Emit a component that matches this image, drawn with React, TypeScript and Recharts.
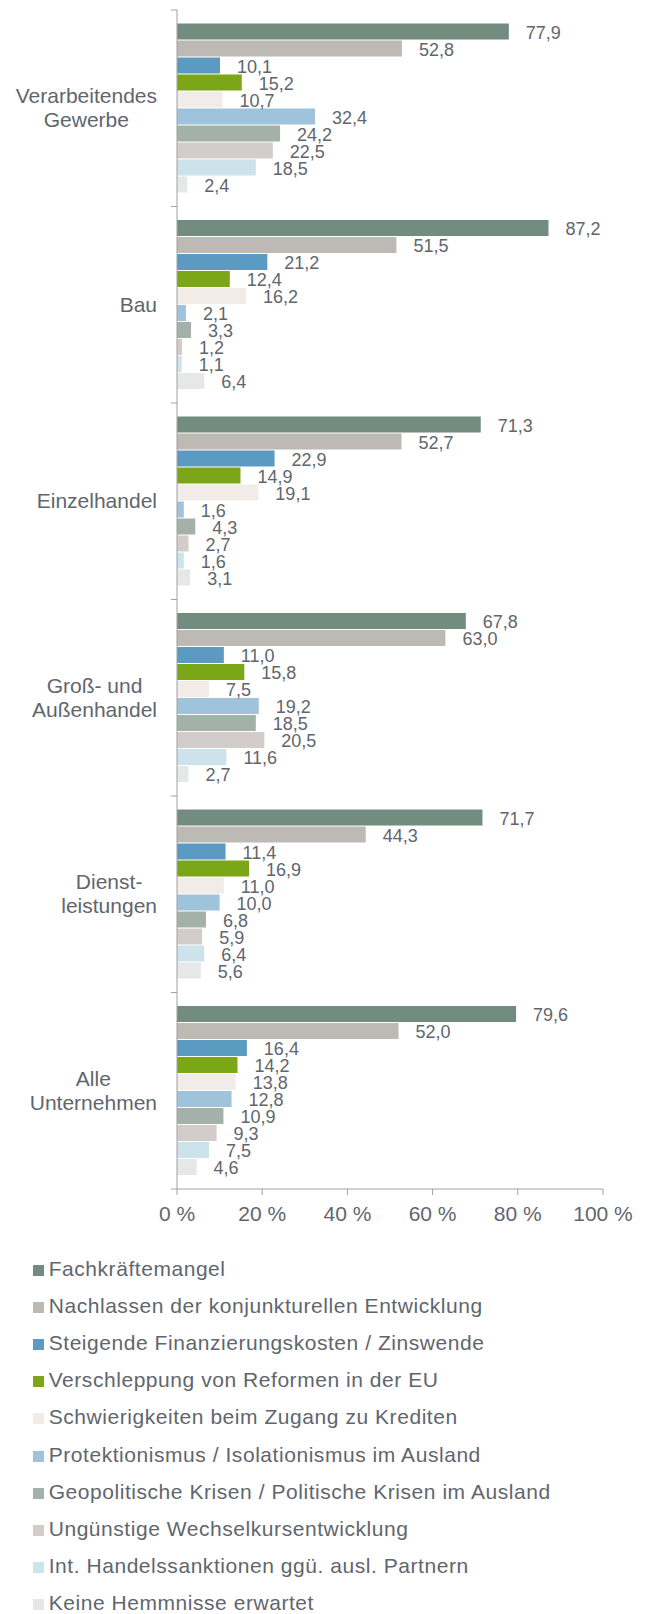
import React from "react";
import { Bar, BarChart, LabelList, XAxis, YAxis } from "recharts";

const CATEGORIES = [
  "Verarbeitendes\nGewerbe",
  "Bau",
  "Einzelhandel",
  "Groß- und\nAußenhandel",
  "Dienst-\nleistungen",
  "Alle\nUnternehmen",
];

const SERIES_NAMES = [
  "Fachkräftemangel",
  "Nachlassen der konjunkturellen Entwicklung",
  "Steigende Finanzierungskosten / Zinswende",
  "Verschleppung von Reformen in der EU",
  "Schwierigkeiten beim Zugang zu Krediten",
  "Protektionismus / Isolationismus im Ausland",
  "Geopolitische Krisen / Politische Krisen im Ausland",
  "Ungünstige Wechselkursentwicklung",
  "Int. Handelssanktionen ggü. ausl. Partnern",
  "Keine Hemmnisse erwartet",
];

const FACHKRAEFTE = [77.9, 87.2, 71.3, 67.8, 71.7, 79.6];
const KONJUNKTUR = [52.8, 51.5, 52.7, 63.0, 44.3, 52.0];
const FINANZIERUNG = [10.1, 21.2, 22.9, 11.0, 11.4, 16.4];
const REFORMEN = [15.2, 12.4, 14.9, 15.8, 16.9, 14.2];
const KREDITE = [10.7, 16.2, 19.1, 7.5, 11.0, 13.8];
const PROTEKTIONISMUS = [32.4, 2.1, 1.6, 19.2, 10.0, 12.8];
const GEOPOLITIK = [24.2, 3.3, 4.3, 18.5, 6.8, 10.9];
const WECHSELKURS = [22.5, 1.2, 2.7, 20.5, 5.9, 9.3];
const SANKTIONEN = [18.5, 1.1, 1.6, 11.6, 6.4, 7.5];
const KEINE = [2.4, 6.4, 3.1, 2.7, 5.6, 4.6];

const SERIES = [
  FACHKRAEFTE,
  KONJUNKTUR,
  FINANZIERUNG,
  REFORMEN,
  KREDITE,
  PROTEKTIONISMUS,
  GEOPOLITIK,
  WECHSELKURS,
  SANKTIONEN,
  KEINE,
];

const COLORS = [
  "#728c80",
  "#bdb9b5",
  "#5b9bc1",
  "#7ba617",
  "#f1ece8",
  "#9fc3da",
  "#a3b1aa",
  "#d2cdca",
  "#cde3ec",
  "#e5e8e6",
];

const X_TICKS = [0, 20, 40, 60, 80, 100];

const FONT = "'Liberation Sans', Arial, sans-serif";
const TEXT = "#5f666d";
const AXIS = "#a0a0a0";

const chartData = CATEGORIES.map((category, i) => {
  const row: Record<string, string | number> = { category };
  SERIES.forEach((values, s) => {
    row[`s${s}`] = values[i];
  });
  return row;
});

let ctx: CanvasRenderingContext2D | null = null;
function textWidth(text: string) {
  if (!ctx) ctx = document.createElement("canvas").getContext("2d");
  if (!ctx) return text.length * 11;
  ctx.font = `21px ${FONT}`;
  return ctx.measureText(text).width;
}

// category label, right-aligned block with centred lines, plus a boundary tick
const CategoryTick = (props: any) => {
  const { x, y, payload, index } = props;
  const half = payload?.offset || 98.25;
  const lines = String(payload.value).split("\n");
  const maxW = Math.max(...lines.map(textWidth));
  const cx = x - 20 - maxW / 2;
  const first = y - ((lines.length - 1) * 24.3) / 2 + 7;
  return (
    <g>
      <line x1={x - 6} x2={x} y1={y - half} y2={y - half} stroke={AXIS} />
      {index === CATEGORIES.length - 1 && (
        <line x1={x - 6} x2={x} y1={y + half} y2={y + half} stroke={AXIS} />
      )}
      <text
        x={cx}
        y={first}
        textAnchor="middle"
        fill={TEXT}
        fontSize={21}
        fontFamily={FONT}
      >
        {lines.map((line, i) => (
          <tspan key={i} x={cx} dy={i === 0 ? 0 : 24.3}>
            {line}
          </tspan>
        ))}
      </text>
    </g>
  );
};

const ValueLabel = (props: any) => {
  const { x, y, width, height, value } = props;
  return (
    <text
      x={Number(x) + Number(width) + 17}
      y={Number(y) + Number(height) / 2 + 7}
      fill={TEXT}
      fontSize={18}
      fontFamily={FONT}
    >
      {Number(value).toFixed(1).replace(".", ",")}
    </text>
  );
};

export default function App() {
  return (
    <div style={{ fontFamily: FONT }}>
      <BarChart
        width={637}
        height={1221}
        data={chartData}
        layout="vertical"
        margin={{ top: 2, right: 42, bottom: 0, left: 0 }}
        barCategoryGap={13.5}
        barGap={1}
      >
        <XAxis
          type="number"
          domain={[0, 100]}
          ticks={X_TICKS}
          tickFormatter={(v) => `${v} %`}
          height={40}
          tickSize={6}
          tickMargin={11}
          axisLine={{ stroke: AXIS }}
          tickLine={{ stroke: AXIS }}
          tick={{ fill: TEXT, fontSize: 21, fontFamily: FONT }}
          interval={0}
        />
        <YAxis
          type="category"
          dataKey="category"
          width={169}
          tickSize={0}
          tickMargin={0}
          tickLine={false}
          axisLine={{ stroke: AXIS }}
          tick={<CategoryTick />}
          interval={0}
        />
        {SERIES.map((_, s) => (
          <Bar
            key={s}
            dataKey={`s${s}`}
            name={SERIES_NAMES[s]}
            fill={COLORS[s]}
            isAnimationActive={false}
          >
            <LabelList dataKey={`s${s}`} content={<ValueLabel />} />
          </Bar>
        ))}
      </BarChart>
      <div style={{ marginTop: 21, paddingLeft: 24.7 }}>
        {SERIES_NAMES.map((name, s) => (
          <div
            key={name}
            style={{
              display: "flex",
              alignItems: "center",
              height: 37.2,
              fontSize: 21,
              color: TEXT,
              whiteSpace: "nowrap",
              letterSpacing: 0.55,
            }}
          >
            <span
              style={{
                display: "inline-block",
                width: 11,
                height: 11,
                background: COLORS[s],
                marginRight: 5,
                marginTop: 3,
              }}
            />
            {name}
          </div>
        ))}
      </div>
    </div>
  );
}
